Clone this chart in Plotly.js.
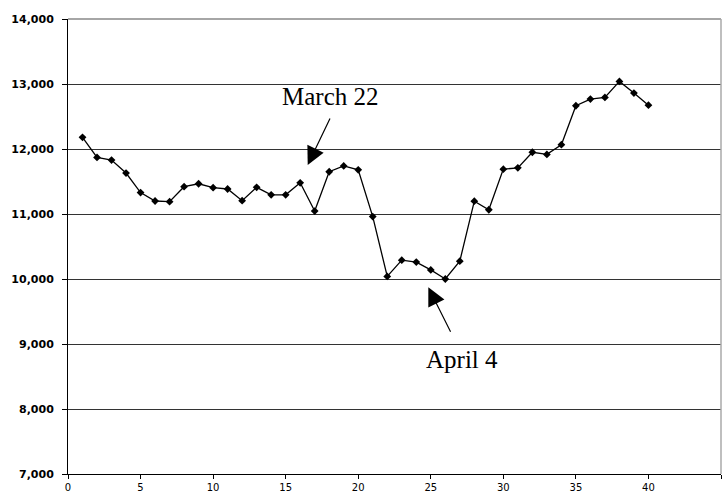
<!DOCTYPE html>
<html>
<head>
<meta charset="utf-8">
<script src="https://cdn.plot.ly/plotly-3.0.1.min.js"></script>
<style>html,body{margin:0;padding:0;background:#fff;}#chart{width:725px;height:493px;}</style>
</head>
<body>
<div id="chart"></div>
<script>
var days = [1,2,3,4,5,6,7,8,9,10,11,12,13,14,15,16,17,18,19,20,21,22,23,24,25,26,27,28,29,30,31,32,33,34,35,36,37,38,39,40];
var values = [12180,11870,11830,11630,11330,11200,11190,11420,11465,11405,11385,11205,11410,11295,11295,11480,11045,11650,11740,11680,10960,10040,10290,10260,10140,10000,10275,11197,11065,11690,11710,11950,11917,12066,12665,12768,12793,13040,12860,12675];
var xTicks = [0,5,10,15,20,25,30,35,40,45];
var yTicks = [7000,8000,9000,10000,11000,12000,13000,14000];
var yTickLabels = ['7,000','8,000','9,000','10,000','11,000','12,000','13,000','14,000'];
var noteLabels = ['March 22','April 4'];
var noteX = [16.52,24.83];
var noteY = [11754,9872];
var noteTextX = [18.06,27.15];
var noteTextY = [12815,8760];

var trace = {
  x: days, y: values, type: 'scatter', mode: 'lines+markers',
  line: {color: '#000', width: 1.3},
  marker: {symbol: 'diamond', size: 6, color: '#000'},
  hoverinfo: 'x+y'
};

var layout = {
  width: 725, height: 493,
  margin: {l: 68, r: 4, t: 19, b: 19},
  paper_bgcolor: '#fff', plot_bgcolor: '#fff',
  showlegend: false,
  xaxis: {
    range: [0,45], tickvals: xTicks, ticktext: xTicks.map(String),
    showgrid: false, zeroline: false,
    showline: true, linecolor: '#000', linewidth: 1,
    ticks: 'outside', ticklen: 4, tickcolor: '#000',
    tickfont: {family: 'DejaVu Sans, Verdana, sans-serif', size: 10, color: '#000'}
  },
  yaxis: {
    range: [7000,14000], tickvals: yTicks, ticktext: yTickLabels.map(function(s){return '<b>' + s + '</b>';}),
    showgrid: true, gridcolor: '#333', gridwidth: 1, zeroline: false,
    showline: true, linecolor: '#000', linewidth: 1,
    ticks: 'outside', ticklen: 5, tickcolor: '#000', ticklabelstandoff: 6,
    tickfont: {family: 'DejaVu Sans, Verdana, sans-serif', size: 11, color: '#000'}
  },
  shapes: [
    {type: 'line', xref: 'paper', yref: 'paper', x0: 0, x1: 1, y0: 1, y1: 1, line: {color: '#888', width: 1.5}},
    {type: 'line', xref: 'paper', yref: 'paper', x0: 1, x1: 1, y0: 0, y1: 1, line: {color: '#aaa', width: 1.5}}
  ],
  annotations: [
    {x: noteX[0], y: noteY[0], xref: 'x', yref: 'y', ax: 23, ay: -48, text: '', showarrow: true,
     arrowhead: 2, arrowsize: 3, arrowwidth: 1.2, arrowcolor: '#000', standoff: 0},
    {x: noteX[1], y: noteY[1], xref: 'x', yref: 'y', ax: 23, ay: 46, text: '', showarrow: true,
     arrowhead: 2, arrowsize: 3, arrowwidth: 1.2, arrowcolor: '#000', standoff: 0},
    {x: noteTextX[0], y: noteTextY[0], xref: 'x', yref: 'y', text: noteLabels[0], showarrow: false,
     xanchor: 'center', yanchor: 'middle',
     font: {family: 'Liberation Serif, Times New Roman, serif', size: 25, color: '#000'}},
    {x: noteTextX[1], y: noteTextY[1], xref: 'x', yref: 'y', text: noteLabels[1], showarrow: false,
     xanchor: 'center', yanchor: 'middle',
     font: {family: 'Liberation Serif, Times New Roman, serif', size: 25, color: '#000'}}
  ]
};

Plotly.newPlot('chart', [trace], layout, {displayModeBar: false, staticPlot: true});
</script>
</body>
</html>
